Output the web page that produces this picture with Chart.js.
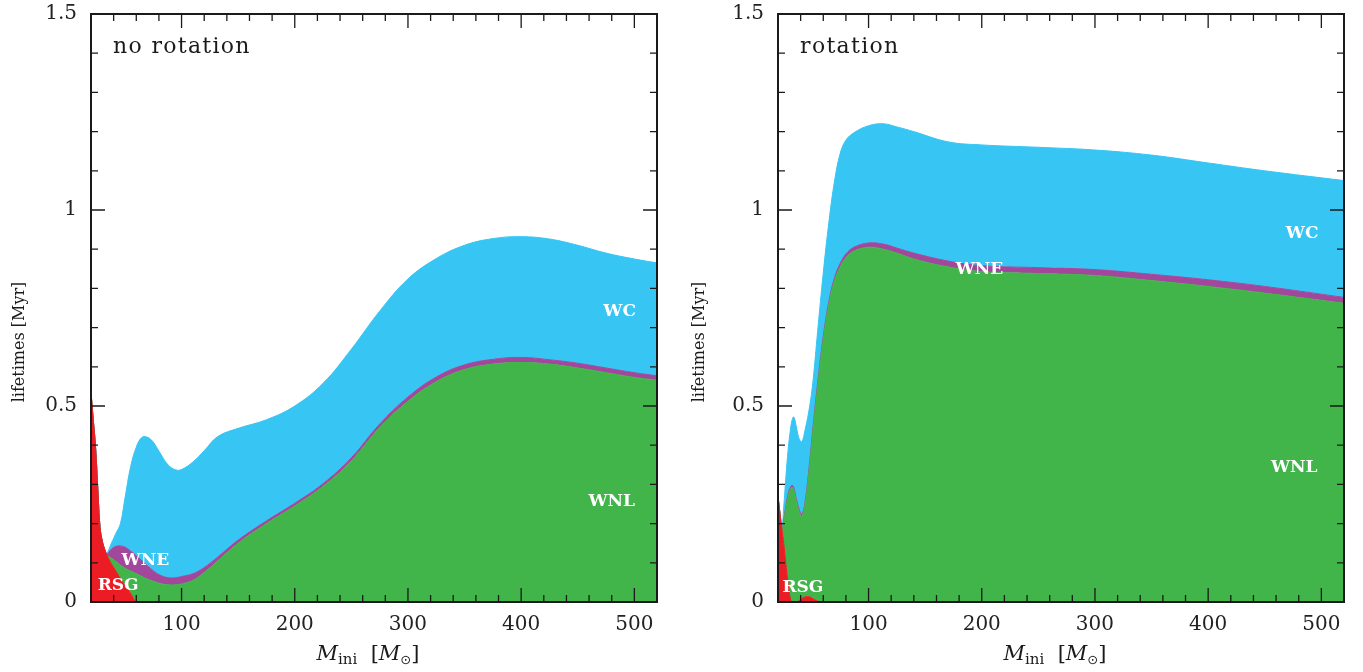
<!DOCTYPE html>
<html>
<head>
<meta charset="utf-8">
<script src="https://cdn.jsdelivr.net/npm/chart.js"></script>
<style>
  body { margin: 0; background: #fff; }
  #wrap { position: relative; width: 1363px; height: 672px; }
  .panel { position: absolute; top: 0; height: 672px; }
</style>
</head>
<body>
<div id="wrap">
  <div class="panel" style="left:0;width:680px"><canvas id="noRotChart" width="680" height="672"></canvas></div>
  <div class="panel" style="left:680px;width:683px"><canvas id="rotChart" width="683" height="672"></canvas></div>
</div>
<script>
// initial mass [Msun]
const massNoRot = [20,22,24,26,28,30,32,34,38,42,46,50,55,60,65,70,75,80,88,95,100,110,120,132,150,175,200,225,250,275,300,325,350,375,400,425,450,475,500,520];
// upper edge of each phase band (cumulative lifetimes, Myr)
const rsgNoRot = [0.535,0.465,0.396,0.29,0.19,0.155,0.135,0.12,0.098,0.079,0.06,0.043,0.022,0,0,0,0,0,0,0,0,0,0,0,0,0,0,0,0,0,0,0,0,0,0,0,0,0,0,0];
const wnlNoRot = [0.535,0.465,0.396,0.29,0.19,0.155,0.135,0.12,0.112,0.103,0.094,0.086,0.079,0.072,0.065,0.058,0.053,0.048,0.044,0.044,0.046,0.055,0.075,0.105,0.15,0.2,0.245,0.295,0.36,0.445,0.512,0.562,0.593,0.607,0.611,0.607,0.597,0.585,0.573,0.566];
const wneNoRot = [0.535,0.465,0.396,0.29,0.19,0.155,0.135,0.122,0.135,0.142,0.143,0.14,0.13,0.118,0.105,0.092,0.08,0.07,0.062,0.062,0.065,0.072,0.088,0.115,0.158,0.207,0.252,0.302,0.368,0.454,0.523,0.574,0.605,0.619,0.624,0.618,0.609,0.597,0.585,0.577];
const wcNoRot  = [0.535,0.465,0.396,0.29,0.19,0.155,0.135,0.125,0.15,0.175,0.2,0.265,0.345,0.395,0.42,0.42,0.408,0.385,0.35,0.337,0.338,0.357,0.386,0.422,0.443,0.465,0.5,0.558,0.645,0.742,0.824,0.876,0.91,0.927,0.932,0.926,0.91,0.89,0.875,0.865];

const massRot = [20,22,23.5,25,27,29,31,32.5,34,36,38.5,41,44,48,51,55,60,65,70,75,80,87,100,113,125,140,170,200,250,300,350,400,450,520];
const rsgRot = [0.27,0.22,0.185,0.15,0.095,0.045,0.008,0,0,0,0.003,0.009,0.013,0.013,0.008,0.002,0,0,0,0,0,0,0,0,0,0,0,0,0,0,0,0,0,0];
const wnlRot = [0.27,0.22,0.185,0.205,0.24,0.27,0.287,0.292,0.285,0.26,0.232,0.218,0.25,0.35,0.44,0.55,0.67,0.76,0.82,0.855,0.878,0.895,0.905,0.9,0.89,0.875,0.855,0.843,0.838,0.833,0.82,0.805,0.788,0.762];
const wneRot = [0.27,0.22,0.185,0.208,0.246,0.276,0.293,0.298,0.291,0.266,0.238,0.224,0.257,0.358,0.448,0.558,0.678,0.768,0.828,0.864,0.888,0.905,0.916,0.913,0.903,0.89,0.87,0.858,0.853,0.848,0.836,0.822,0.805,0.777];
const wcRot  = [0.27,0.22,0.185,0.24,0.32,0.39,0.44,0.465,0.472,0.45,0.418,0.409,0.44,0.5,0.566,0.69,0.84,0.97,1.075,1.145,1.178,1.197,1.215,1.22,1.212,1.2,1.174,1.166,1.16,1.153,1.14,1.12,1.1,1.075];

const phases = ['RSG', 'WNL', 'WNE', 'WC'];
const phaseColors = ['#ec1c24', '#41b549', '#a3479c', '#37c5f3'];

const xTickValues = [100, 200, 300, 400, 500];
const yTickValues = [0, 0.5, 1, 1.5];

const serif = '"DejaVu Serif", "Liberation Serif", serif';

function makePoints(mass, values) {
  return mass.map((m, i) => ({ x: m, y: values[i] }));
}

function drawMassTitle(ctx, cx, cy) {
  const parts = [
    { t: 'M', font: 'italic 21px ' + serif, dy: 0 },
    { t: 'ini', font: '15px ' + serif, dy: 5 },
    { t: '  [', font: '21px ' + serif, dy: 0 },
    { t: 'M', font: 'italic 21px ' + serif, dy: 0 },
    { t: '\u2299', font: '13px "DejaVu Sans"', dy: 6 },
    { t: ']', font: '21px ' + serif, dy: 0 }
  ];
  let w = 0;
  parts.forEach(p => { ctx.font = p.font; p.w = ctx.measureText(p.t).width; w += p.w; });
  let x = cx - w / 2;
  ctx.textBaseline = 'middle';
  ctx.textAlign = 'left';
  parts.forEach(p => { ctx.font = p.font; ctx.fillText(p.t, x, cy + p.dy); x += p.w; });
}

function lifetimesChart(canvasId, mass, bands, panelText, phaseLabels, yAxisWidth, rightPad) {
  const framePlugin = {
    id: 'frame',
    afterDatasetsDraw(chart) {
      const ctx = chart.ctx;
      const a = chart.chartArea;
      const x = chart.scales.x, y = chart.scales.y;
      ctx.save();
      // phase labels
      ctx.fillStyle = '#fff';
      ctx.font = 'bold 17px ' + serif;
      ctx.textAlign = 'center';
      ctx.textBaseline = 'middle';
      phaseLabels.forEach(l => ctx.fillText(l.text, x.getPixelForValue(l.m), y.getPixelForValue(l.t)));
      // ticks on all four sides
      ctx.strokeStyle = '#1a1a1a';
      ctx.lineWidth = 1.3;
      ctx.beginPath();
      for (let m = 40; m <= 520; m += 20) {
        const px = x.getPixelForValue(m);
        const len = m % 100 === 0 ? 14 : 7;
        ctx.moveTo(px, a.bottom); ctx.lineTo(px, a.bottom - len);
        ctx.moveTo(px, a.top); ctx.lineTo(px, a.top + len);
      }
      for (let i = 1; i < 15; i++) {
        const py = y.getPixelForValue(i / 10);
        const len = i % 5 === 0 ? 14 : 7;
        ctx.moveTo(a.left, py); ctx.lineTo(a.left + len, py);
        ctx.moveTo(a.right, py); ctx.lineTo(a.right - len, py);
      }
      ctx.stroke();
      ctx.lineWidth = 2;
      ctx.strokeRect(a.left, a.top, a.right - a.left, a.bottom - a.top);
      // panel text
      ctx.fillStyle = '#1a1a1a';
      ctx.font = '22px ' + serif;
      ctx.textAlign = 'left';
      ctx.letterSpacing = '1.3px';
      ctx.fillText(panelText, x.getPixelForValue(39.5), y.getPixelForValue(1.415));
      ctx.letterSpacing = '0px';
      // axis titles
      drawMassTitle(ctx, (a.left + a.right) / 2 - 6, 655);
      ctx.save();
      ctx.translate(20, 342);
      ctx.rotate(-Math.PI / 2);
      ctx.font = '16px ' + serif;
      ctx.textAlign = 'center';
      ctx.fillText('lifetimes [Myr]', 0, 0);
      ctx.restore();
      ctx.restore();
    }
  };

  new Chart(canvasId, {
    type: 'line',
    data: {
      datasets: bands.map((b, i) => ({
        label: phases[i],
        data: makePoints(mass, b),
        backgroundColor: phaseColors[i],
        borderColor: phaseColors[i],
        borderWidth: 1,
        pointRadius: 0,
        tension: 0.4,
        fill: i === 0 ? 'origin' : '-1'
      }))
    },
    options: {
      responsive: false,
      animation: false,
      layout: { padding: { top: 14, right: rightPad, left: 0, bottom: 0 } },
      plugins: { legend: { display: false }, tooltip: { enabled: false } },
      scales: {
        x: {
          type: 'linear', min: 20, max: 520,
          grid: { display: false, drawTicks: false },
          border: { display: false },
          afterBuildTicks: s => { s.ticks = xTickValues.map(v => ({ value: v })); },
          afterFit: s => { s.height = 70; s.paddingLeft = 0; s.paddingRight = 0; },
          ticks: { font: { family: serif, size: 20 }, color: '#222', padding: 11, maxRotation: 0, autoSkip: false }
        },
        y: {
          type: 'linear', min: 0, max: 1.5,
          grid: { display: false, drawTicks: false },
          border: { display: false },
          afterBuildTicks: s => { s.ticks = yTickValues.map(v => ({ value: v })); },
          afterFit: s => { s.width = yAxisWidth; s.paddingTop = 0; s.paddingBottom = 0; },
          ticks: { font: { family: serif, size: 20 }, color: '#222', padding: 14, autoSkip: false, callback: v => String(v) }
        }
      }
    },
    plugins: [framePlugin]
  });
}

lifetimesChart('noRotChart', massNoRot, [rsgNoRot, wnlNoRot, wneNoRot, wcNoRot], 'no rotation', [
  { text: 'WC', m: 487, t: 0.742 },
  { text: 'WNL', m: 480, t: 0.255 },
  { text: 'WNE', m: 68, t: 0.105 },
  { text: 'RSG', m: 44, t: 0.041 }
], 91, 23);

lifetimesChart('rotChart', massRot, [rsgRot, wnlRot, wneRot, wcRot], 'rotation', [
  { text: 'WC', m: 483, t: 0.941 },
  { text: 'WNE', m: 198, t: 0.847 },
  { text: 'WNL', m: 476, t: 0.344 },
  { text: 'RSG', m: 42, t: 0.038 }
], 98, 19);
</script>
</body>
</html>
